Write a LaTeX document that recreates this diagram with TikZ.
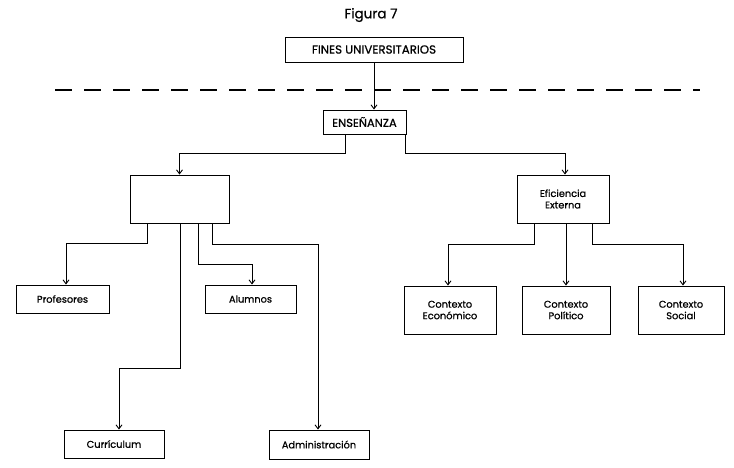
\documentclass[tikz,border=0pt]{standalone}
\usepackage{fontspec}
\setmainfont{Poppins}[FakeBold=0.8]
\usetikzlibrary{arrows.meta}
\tikzset{
  box/.style={draw, line width=0.9pt, inner sep=0pt, align=center, font=\fontsize{9.8}{11.5}\selectfont},
  arr/.style={draw, line width=0.9pt, -{Straight Barb[length=4pt,width=6pt,line width=0.9pt]}},
  lin/.style={draw, line width=0.9pt}
}
\begin{document}
\begin{tikzpicture}[x=1pt,y=-1pt]
\useasboundingbox (0,0) rectangle (734,467);
\node[font=\fontsize{13.5}{15}\selectfont] (title) at (371,15) {Figura 7};
\node[box, minimum width=178pt, minimum height=25pt, font=\fontsize{11.8}{13}\selectfont] (fines) at (374,49.5) {FINES UNIVERSITARIOS};
\node[box, minimum width=83pt, minimum height=24pt, font=\fontsize{11.5}{13}\selectfont] (ens) at (364.5,122) {ENSEÑANZA};
\node[box, minimum width=99pt, minimum height=48pt] (empty) at (179.5,199) {};
\node[box, minimum width=92pt, minimum height=48pt] (efic) at (563,199) {Eficiencia\\Externa};
\node[box, minimum width=93pt, minimum height=28pt] (prof) at (62.5,299) {Profesores};
\node[box, minimum width=91pt, minimum height=28pt] (alum) at (250.5,299) {Alumnos};
\node[box, minimum width=100pt, minimum height=28pt] (curr) at (114,444) {Currículum};
\node[box, minimum width=100pt, minimum height=29pt] (admin) at (319,444.5) {Administración};
\node[box, minimum width=92pt, minimum height=48pt] (econ) at (450,310) {Contexto\\Económico};
\node[box, minimum width=88pt, minimum height=48pt] (pol) at (566,310) {Contexto\\Político};
\node[box, minimum width=86pt, minimum height=48pt] (soc) at (681,310) {Contexto\\Social};
\coordinate (dashL) at (55,90);
\coordinate (dashR) at (700,90);
\draw[line width=1.1pt, dash pattern=on 17pt off 12pt] (dashL) -- (dashR);
\draw[arr] (fines.south) -- (fines.south |- ens.north);
\draw[arr] ([xshift=-19.5pt]ens.south) -- ++(0,19) -| (empty.north);
\draw[arr] ([xshift=40.5pt]ens.south) -- ++(0,19) -| ([xshift=2pt]efic.north);
\draw[arr] ([xshift=-32.5pt]empty.south) -- ++(0,20) -| ([xshift=3.5pt]prof.north);
\draw[arr] ([xshift=0.5pt]empty.south) -- ++(0,145) -| ([xshift=5pt]curr.north);
\draw[arr] ([xshift=18.5pt]empty.south) -- ++(0,41) -| ([xshift=1.5pt]alum.north);
\draw[arr] ([xshift=32.5pt]empty.south) -- ++(0,21) -| ([xshift=-1pt]admin.north);
\draw[arr] ([xshift=-29pt]efic.south) -- ++(0,21) -| ([xshift=-2pt]econ.north);
\draw[arr] ([xshift=3pt]efic.south) -- (pol.north);
\draw[arr] ([xshift=29pt]efic.south) -- ++(0,21) -| ([xshift=2pt]soc.north);
\end{tikzpicture}
\end{document}
